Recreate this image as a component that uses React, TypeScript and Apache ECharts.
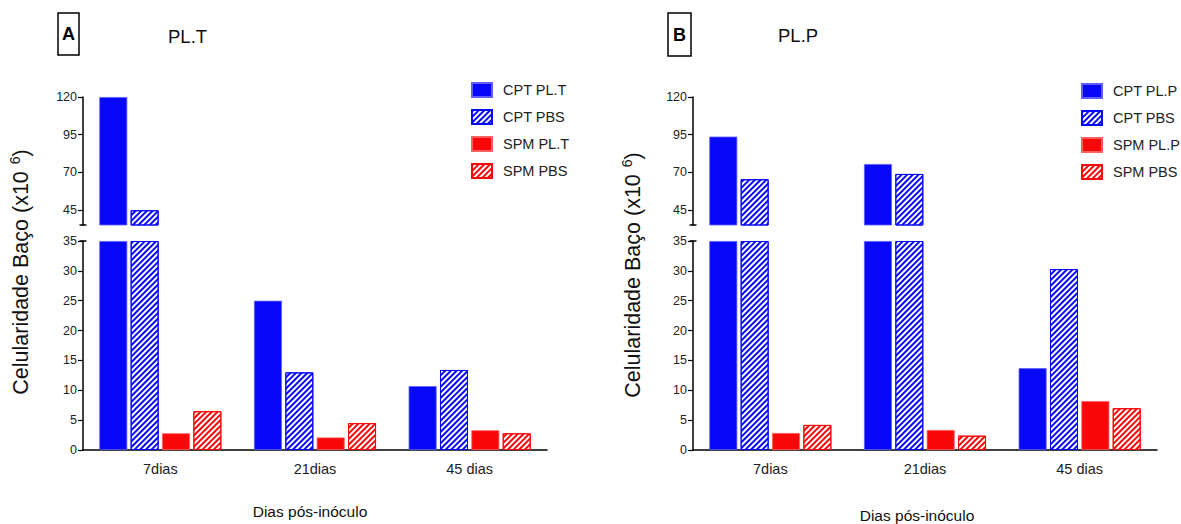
import React, { useEffect, useRef } from 'react';
import * as echarts from 'echarts';

// ---- data ----
const categories = ['7dias', '21dias', '45 dias'];
const panelATitle = 'PL.T';
const panelBTitle = 'PL.P';
const namesA = ['CPT PL.T', 'CPT PBS', 'SPM PL.T', 'SPM PBS'];
const namesB = ['CPT PL.P', 'CPT PBS', 'SPM PL.P', 'SPM PBS'];

const cptPLT = [120, 25, 10.7];
const cptPBS_A = [44.8, 13, 13.4];
const spmPLT = [2.8, 2.1, 3.3];
const spmPBS_A = [6.5, 4.5, 2.8];

const cptPLP = [93.7, 75.5, 13.7];
const cptPBS_B = [65.4, 68.9, 30.3];
const spmPLP = [2.85, 3.35, 8.2];
const spmPBS_B = [4.2, 2.4, 7.0];

const upperTicks = [45, 70, 95, 120];
const breakValue = 35;
const upperMax = 120;
const lowerInterval = 5;

const yTitle = 'Celularidade Baço (x10 ';
const ySup = '6';
const xTitle = 'Dias pós-inóculo';

// ---- styles ----
const BLUE = '#0808f8';
const RED = '#f80808';
const SANS = "'Liberation Sans', Arial, sans-serif";

function barSeries(name: string, values: number[], color: string, hatched: boolean, idx: number, part: 'upper' | 'lower') {
  const data = part === 'upper'
    ? values.map((v) => (v > breakValue ? v : '-'))
    : values.map((v) => Math.min(v, breakValue));
  return {
    type: 'bar',
    name,
    data,
    xAxisIndex: idx,
    yAxisIndex: idx,
    barWidth: 28,
    barGap: '12%',
    silent: true,
    itemStyle: hatched
      ? {
          color: '#ffffff',
          borderColor: color,
          borderWidth: 1,
          decal: {
            symbol: 'rect',
            symbolSize: 1,
            color,
            dashArrayX: [1, 0],
            dashArrayY: [1.5, 1.2],
            rotation: -Math.PI / 4,
          },
        }
      : { color, borderColor: color === BLUE ? '#6060ff' : '#ff6060', borderWidth: 0.8 },
  };
}

const grids = [
  { left: 83, top: 97, width: 464, height: 128 },
  { left: 83, top: 241, width: 464, height: 209 },
  { left: 693, top: 97, width: 464, height: 128 },
  { left: 693, top: 241, width: 464, height: 209 },
];

export default function App() {
  const ref = useRef<HTMLDivElement>(null);
  useEffect(() => {
    if (!ref.current) return;
    const chart = echarts.init(ref.current, null, { renderer: 'svg' });

    const xAxes = grids.map((_, i) => {
      const lower = i % 2 === 1;
      return {
        type: 'category',
        gridIndex: i,
        data: categories,
        show: lower,
        axisLine: { show: lower, lineStyle: { color: '#000', width: 1.5 } },
        axisTick: { show: false },
        axisLabel: { show: lower, fontFamily: SANS, fontSize: 14.5, color: '#222', margin: 11 },
      };
    });

    const yAxes = grids.map((_, i) => {
      const lower = i % 2 === 1;
      const common = {
        type: 'value',
        gridIndex: i,
        splitLine: { show: false },
        axisLine: { show: true, lineStyle: { color: '#000', width: 1.5 } },
        axisTick: { show: true, length: 5, lineStyle: { color: '#000', width: 1.2 } },
      };
      if (lower) {
        return {
          ...common,
          min: 0,
          max: breakValue,
          interval: lowerInterval,
          axisLabel: { fontFamily: SANS, fontSize: 12.5, color: '#222', margin: 6 },
        };
      }
      return {
        ...common,
        min: breakValue,
        max: upperMax,
        axisTick: { ...common.axisTick, customValues: upperTicks },
        axisLabel: { fontFamily: SANS, fontSize: 12.5, color: '#222', margin: 6, customValues: upperTicks },
      };
    });

    const series: any[] = [];
    const panelA = [
      [namesA[0], cptPLT, BLUE, false],
      [namesA[1], cptPBS_A, BLUE, true],
      [namesA[2], spmPLT, RED, false],
      [namesA[3], spmPBS_A, RED, true],
    ];
    const panelB = [
      [namesB[0], cptPLP, BLUE, false],
      [namesB[1], cptPBS_B, BLUE, true],
      [namesB[2], spmPLP, RED, false],
      [namesB[3], spmPBS_B, RED, true],
    ];
    panelA.forEach(([n, v, c, h]: any) => {
      series.push(barSeries(n, v, c, h, 0, 'upper'));
      series.push(barSeries(n, v, c, h, 1, 'lower'));
    });
    panelB.forEach(([n, v, c, h]: any) => {
      series.push(barSeries(n, v, c, h, 2, 'upper'));
      series.push(barSeries(n, v, c, h, 3, 'lower'));
    });

    const legendCommon = {
      orient: 'vertical',
      itemWidth: 20,
      itemHeight: 14,
      itemGap: 11,
      icon: 'rect',
      selectedMode: false,
      textStyle: { fontFamily: SANS, fontSize: 14.5, color: '#222', padding: [0, 0, 0, 6] },
    };

    const breakMarks = (ax: number) => [
      { type: 'line', shape: { x1: ax - 3.5, y1: 225, x2: ax + 3.5, y2: 225 }, style: { stroke: '#000', lineWidth: 1.5 } },
      { type: 'line', shape: { x1: ax - 3.5, y1: 241, x2: ax + 3.5, y2: 241 }, style: { stroke: '#000', lineWidth: 1.5 } },
    ];

    const yTitleEl = (x: number, y: number) => ({
      type: 'text',
      x,
      y,
      rotation: Math.PI / 2,
      style: {
        text: `{a|${yTitle}}{s|${ySup}}{a|)}`,
        align: 'center',
        verticalAlign: 'middle',
        fill: '#111',
        rich: {
          a: { fontFamily: SANS, fontSize: 21.5, fill: '#111' },
          s: { fontFamily: SANS, fontSize: 14, fill: '#111', padding: [0, 0, 12, 1] },
        },
      },
    });

    const panelLabel = (x: number, y: number, w: number, h: number, letter: string) => [
      { type: 'rect', shape: { x, y, width: w, height: h }, style: { fill: 'none', stroke: '#000', lineWidth: 1.5 } },
      {
        type: 'text',
        x: x + w / 2,
        y: y + h / 2,
        style: { text: letter, align: 'center', verticalAlign: 'middle', fontFamily: SANS, fontWeight: 'bold', fontSize: 18, fill: '#000' },
      },
    ];

    chart.setOption({
      animation: false,
      backgroundColor: '#fff',
      grid: grids,
      xAxis: xAxes,
      yAxis: yAxes,
      series,
      legend: [
        { ...legendCommon, left: 466, top: 77, data: namesA },
        { ...legendCommon, left: 1076, top: 78, data: namesB },
      ],
      graphic: [
        ...panelLabel(58, 13, 21, 42, 'A'),
        ...panelLabel(668, 13, 23, 43, 'B'),
        { type: 'text', x: 168, y: 36, style: { text: panelATitle, verticalAlign: 'middle', fontFamily: SANS, fontSize: 18.5, fill: '#111' } },
        { type: 'text', x: 778, y: 35, style: { text: panelBTitle, verticalAlign: 'middle', fontFamily: SANS, fontSize: 18.5, fill: '#111' } },
        yTitleEl(21, 272),
        yTitleEl(633, 275),
        { type: 'text', x: 310, y: 511, style: { text: xTitle, align: 'center', verticalAlign: 'middle', fontFamily: SANS, fontSize: 15.5, fill: '#111' } },
        { type: 'text', x: 917, y: 515, style: { text: xTitle, align: 'center', verticalAlign: 'middle', fontFamily: SANS, fontSize: 15.5, fill: '#111' } },
        ...breakMarks(83),
        ...breakMarks(693),
      ],
    });
    return () => chart.dispose();
  }, []);
  return <div ref={ref} style={{ position: 'fixed', left: 0, top: 0, width: 1181, height: 524 }} />;
}
